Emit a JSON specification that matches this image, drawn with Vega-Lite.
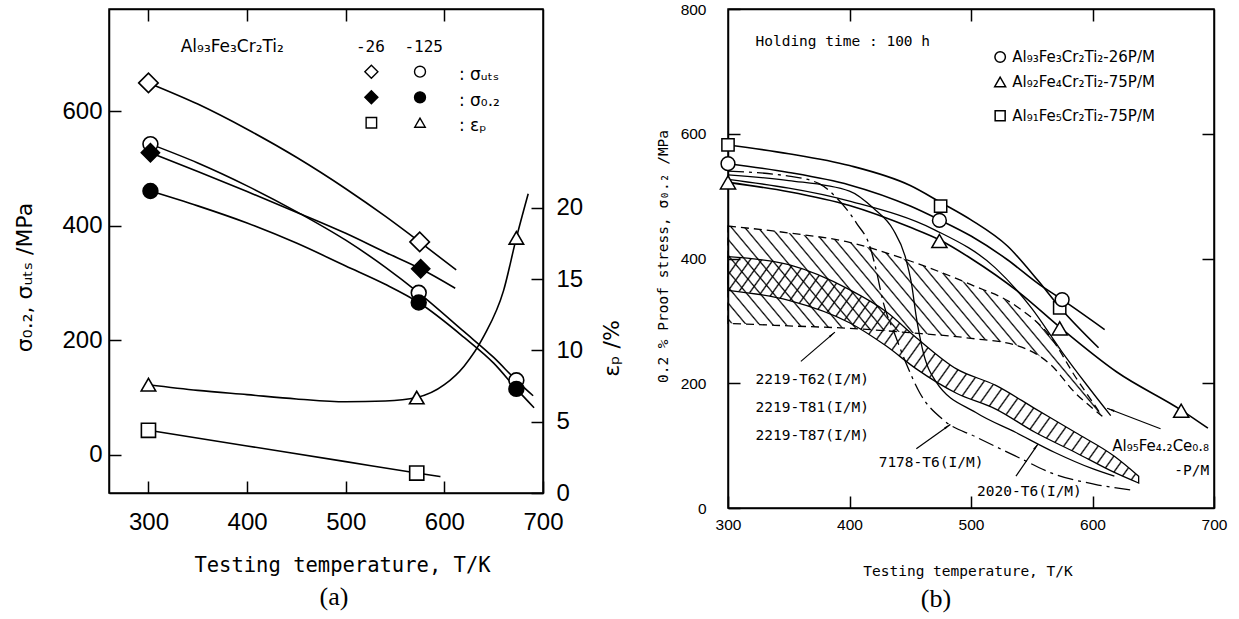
{
"$schema":"https://vega.github.io/schema/vega-lite/v6.json",
"padding":{"left":12,"top":1,"right":4,"bottom":4},
"background":"white",
"spacing":31,
"config":{"view":{"stroke":"black","strokeWidth":1.5},"axis":{"grid":false,"domain":true,"domainColor":"black","domainWidth":1.5,"tickColor":"black","tickWidth":1.5,"labelColor":"black","titleColor":"black","titleFontWeight":"normal","labelFlush":false,"labelOverlap":false}},
"datasets":{
"aStress":[
{"series":"uts26","T":300,"MPa":650},{"series":"uts26","T":350,"MPa":613},{"series":"uts26","T":400,"MPa":569},{"series":"uts26","T":450,"MPa":520},{"series":"uts26","T":500,"MPa":465},{"series":"uts26","T":540,"MPa":417},{"series":"uts26","T":575,"MPa":372},{"series":"uts26","T":612,"MPa":323},
{"series":"uts125","T":302,"MPa":543},{"series":"uts125","T":350,"MPa":510},{"series":"uts125","T":400,"MPa":470},{"series":"uts125","T":450,"MPa":425},{"series":"uts125","T":500,"MPa":375},{"series":"uts125","T":540,"MPa":328},{"series":"uts125","T":574,"MPa":283},{"series":"uts125","T":620,"MPa":215},{"series":"uts125","T":650,"MPa":170},{"series":"uts125","T":673,"MPa":130},{"series":"uts125","T":690,"MPa":103},
{"series":"ys26","T":302,"MPa":528},{"series":"ys26","T":350,"MPa":495},{"series":"ys26","T":400,"MPa":460},{"series":"ys26","T":450,"MPa":424},{"series":"ys26","T":500,"MPa":387},{"series":"ys26","T":540,"MPa":354},{"series":"ys26","T":576,"MPa":325},{"series":"ys26","T":611,"MPa":291},
{"series":"ys125","T":302,"MPa":461},{"series":"ys125","T":350,"MPa":435},{"series":"ys125","T":400,"MPa":405},{"series":"ys125","T":450,"MPa":370},{"series":"ys125","T":500,"MPa":330},{"series":"ys125","T":540,"MPa":298},{"series":"ys125","T":574,"MPa":266},{"series":"ys125","T":620,"MPa":205},{"series":"ys125","T":650,"MPa":160},{"series":"ys125","T":673,"MPa":115},{"series":"ys125","T":691,"MPa":82}
],
"aStressPts":[
{"series":"uts26","T":300,"MPa":650},{"series":"uts26","T":575,"MPa":372},
{"series":"uts125","T":302,"MPa":543},{"series":"uts125","T":574,"MPa":283},{"series":"uts125","T":673,"MPa":130},
{"series":"ys26","T":302,"MPa":528},{"series":"ys26","T":576,"MPa":325},
{"series":"ys125","T":302,"MPa":461},{"series":"ys125","T":574,"MPa":266},{"series":"ys125","T":673,"MPa":115}
],
"aStrain":[
{"series":"ep26","T":300,"pct":4.4},{"series":"ep26","T":400,"pct":3.3},{"series":"ep26","T":500,"pct":2.2},{"series":"ep26","T":572,"pct":1.4},{"series":"ep26","T":596,"pct":1.15},
{"series":"ep125","T":300,"pct":7.6},{"series":"ep125","T":350,"pct":7.2},{"series":"ep125","T":400,"pct":6.9},{"series":"ep125","T":450,"pct":6.6},{"series":"ep125","T":500,"pct":6.4},{"series":"ep125","T":540,"pct":6.45},{"series":"ep125","T":572,"pct":6.7},{"series":"ep125","T":600,"pct":7.6},{"series":"ep125","T":620,"pct":8.9},{"series":"ep125","T":640,"pct":11.0},{"series":"ep125","T":660,"pct":14.2},{"series":"ep125","T":673,"pct":17.9},{"series":"ep125","T":685,"pct":21.0}
],
"aStrainPts":[
{"series":"ep26","T":300,"pct":4.4},{"series":"ep26","T":572,"pct":1.4},
{"series":"ep125","T":300,"pct":7.6},{"series":"ep125","T":572,"pct":6.7},{"series":"ep125","T":673,"pct":17.9}
],
"bBandA":[
{"T":300,"lo":296,"hi":452},{"T":350,"lo":292,"hi":441},{"T":400,"lo":288,"hi":426},{"T":450,"lo":281,"hi":396},{"T":500,"lo":272,"hi":358},{"T":537,"lo":261,"hi":324},{"T":566,"lo":229,"hi":273},{"T":586,"lo":184,"hi":210},{"T":600,"lo":160,"hi":170},{"T":608,"lo":147,"hi":147}
],
"bBandC":[
{"T":300,"lo":349,"hi":403},{"T":350,"lo":333,"hi":390},{"T":400,"lo":297,"hi":350},{"T":430,"lo":260,"hi":315},{"T":455,"lo":223,"hi":273},{"T":488,"lo":184,"hi":223},{"T":520,"lo":159,"hi":197},{"T":553,"lo":121,"hi":159},{"T":586,"lo":89,"hi":121},{"T":618,"lo":57,"hi":83},{"T":638,"lo":40,"hi":51}
],
"bRef":[
{"series":"7178-T6","T":300,"MPa":540},{"series":"7178-T6","T":350,"MPa":532},{"series":"7178-T6","T":375,"MPa":520},{"series":"7178-T6","T":389,"MPa":498},{"series":"7178-T6","T":406,"MPa":456},{"series":"7178-T6","T":417,"MPa":418},{"series":"7178-T6","T":422,"MPa":381},{"series":"7178-T6","T":428,"MPa":328},{"series":"7178-T6","T":437,"MPa":280},{"series":"7178-T6","T":447,"MPa":230},{"series":"7178-T6","T":458,"MPa":184},{"series":"7178-T6","T":478,"MPa":140},{"series":"7178-T6","T":504,"MPa":114},{"series":"7178-T6","T":537,"MPa":83},{"series":"7178-T6","T":569,"MPa":54},{"series":"7178-T6","T":602,"MPa":38},{"series":"7178-T6","T":631,"MPa":29},
{"series":"2020-T6","T":300,"MPa":534},{"series":"2020-T6","T":350,"MPa":525},{"series":"2020-T6","T":400,"MPa":508},{"series":"2020-T6","T":420,"MPa":480},{"series":"2020-T6","T":436,"MPa":446},{"series":"2020-T6","T":446,"MPa":402},{"series":"2020-T6","T":451,"MPa":360},{"series":"2020-T6","T":455,"MPa":306},{"series":"2020-T6","T":460,"MPa":255},{"series":"2020-T6","T":471,"MPa":203},{"series":"2020-T6","T":504,"MPa":153},{"series":"2020-T6","T":537,"MPa":121},{"series":"2020-T6","T":569,"MPa":89},{"series":"2020-T6","T":600,"MPa":63},{"series":"2020-T6","T":618,"MPa":51},
{"series":"Al95","T":300,"MPa":527},{"series":"Al95","T":400,"MPa":492},{"series":"Al95","T":470,"MPa":446},{"series":"Al95","T":520,"MPa":385},{"series":"Al95","T":550,"MPa":320},{"series":"Al95","T":575,"MPa":250},{"series":"Al95","T":595,"MPa":198},{"series":"Al95","T":615,"MPa":148}
],
"bPM":[
{"series":"sq","T":300,"MPa":582},{"series":"sq","T":350,"MPa":568},{"series":"sq","T":400,"MPa":549},{"series":"sq","T":450,"MPa":517},{"series":"sq","T":475,"MPa":490},{"series":"sq","T":500,"MPa":462},{"series":"sq","T":530,"MPa":420},{"series":"sq","T":555,"MPa":365},{"series":"sq","T":573,"MPa":322},{"series":"sq","T":605,"MPa":257},
{"series":"circ","T":300,"MPa":552},{"series":"circ","T":350,"MPa":538},{"series":"circ","T":400,"MPa":518},{"series":"circ","T":450,"MPa":484},{"series":"circ","T":474,"MPa":462},{"series":"circ","T":500,"MPa":436},{"series":"circ","T":530,"MPa":398},{"series":"circ","T":555,"MPa":360},{"series":"circ","T":575,"MPa":334},{"series":"circ","T":610,"MPa":286},
{"series":"tri","T":300,"MPa":522},{"series":"tri","T":350,"MPa":507},{"series":"tri","T":400,"MPa":485},{"series":"tri","T":450,"MPa":450},{"series":"tri","T":474,"MPa":430},{"series":"tri","T":500,"MPa":400},{"series":"tri","T":540,"MPa":345},{"series":"tri","T":573,"MPa":290},{"series":"tri","T":620,"MPa":218},{"series":"tri","T":673,"MPa":157},{"series":"tri","T":695,"MPa":128}
],
"bPMPts":[
{"series":"sq","T":300,"MPa":582},{"series":"sq","T":475,"MPa":484},{"series":"sq","T":573,"MPa":321},
{"series":"circ","T":300,"MPa":552},{"series":"circ","T":474,"MPa":461},{"series":"circ","T":575,"MPa":334},
{"series":"tri","T":300,"MPa":522},{"series":"tri","T":474,"MPa":428},{"series":"tri","T":573,"MPa":288},{"series":"tri","T":673,"MPa":156}
]
},
"hconcat":[
{
"width":434,"height":484,
"title":{"text":"(a)","orient":"bottom","font":"Liberation Serif","fontSize":26,"fontWeight":"normal","dx":8,"offset":8,"color":"black"},
"layer":[
{"layer":[
{"data":{"name":"aStress"},"mark":{"type":"line","interpolate":"monotone","color":"black","strokeWidth":1.6},
"encoding":{
"x":{"field":"T","type":"quantitative","scale":{"domain":[260,700],"nice":false,"zero":false},"axis":{"orient":"bottom","values":[300,400,500,600,700],"tickSize":-12,"labelFont":"Liberation Sans","labelFontSize":24,"labelPadding":29,"title":"Testing temperature, T/K","titleFont":"DejaVu Sans Mono","titleFontSize":20.5,"titleX":233,"titleY":72,"titleBaseline":"middle","titleAlign":"center"}},
"y":{"field":"MPa","type":"quantitative","scale":{"domain":[-67,779.2],"nice":false,"zero":false},"axis":{"orient":"left","values":[0,200,400,600],"tickSize":-12,"labelFont":"Liberation Sans","labelFontSize":24,"labelPadding":19,"title":"σ₀.₂,  σᵤₜₛ /MPa","titleFont":"DejaVu Sans","titleFontSize":22,"titleAngle":-90,"titleX":-85,"titleY":268,"titleBaseline":"middle","titleAlign":"center"}},
"detail":{"field":"series"}}},
{"data":{"name":"aStressPts"},"transform":[{"filter":"datum.series=='uts26'"}],"mark":{"type":"point","shape":"diamond","filled":true,"fill":"white","stroke":"black","strokeWidth":1.6,"size":380,"opacity":1},"encoding":{"x":{"field":"T","type":"quantitative"},"y":{"field":"MPa","type":"quantitative"}}},
{"data":{"name":"aStressPts"},"transform":[{"filter":"datum.series=='uts125'"}],"mark":{"type":"point","shape":"circle","filled":true,"fill":"white","stroke":"black","strokeWidth":1.6,"size":220,"opacity":1},"encoding":{"x":{"field":"T","type":"quantitative"},"y":{"field":"MPa","type":"quantitative"}}},
{"data":{"name":"aStressPts"},"transform":[{"filter":"datum.series=='ys26'"}],"mark":{"type":"point","shape":"diamond","filled":true,"fill":"black","stroke":"black","strokeWidth":1.6,"size":330,"opacity":1},"encoding":{"x":{"field":"T","type":"quantitative"},"y":{"field":"MPa","type":"quantitative"}}},
{"data":{"name":"aStressPts"},"transform":[{"filter":"datum.series=='ys125'"}],"mark":{"type":"point","shape":"circle","filled":true,"fill":"black","stroke":"black","strokeWidth":1.6,"size":220,"opacity":1},"encoding":{"x":{"field":"T","type":"quantitative"},"y":{"field":"MPa","type":"quantitative"}}},
{"data":{"values":[{}]},"layer":[
{"mark":{"type":"text","text":"Al₉₃Fe₃Cr₂Ti₂","align":"left","baseline":"middle","font":"DejaVu Sans","fontSize":17,"color":"black"},"encoding":{"x":{"datum":332.7,"type":"quantitative"},"y":{"datum":712.8,"type":"quantitative"}}},
{"mark":{"type":"text","text":"-26","align":"center","baseline":"middle","font":"DejaVu Sans Mono","fontSize":16,"color":"black"},"encoding":{"x":{"datum":525,"type":"quantitative"},"y":{"datum":712.8,"type":"quantitative"}}},
{"mark":{"type":"text","text":"-125","align":"center","baseline":"middle","font":"DejaVu Sans Mono","fontSize":16,"color":"black"},"encoding":{"x":{"datum":579,"type":"quantitative"},"y":{"datum":712.8,"type":"quantitative"}}},
{"mark":{"type":"point","shape":"diamond","filled":true,"fill":"white","stroke":"black","strokeWidth":1.4,"size":170,"opacity":1},"encoding":{"x":{"datum":526,"type":"quantitative"},"y":{"datum":669.6,"type":"quantitative"}}},
{"mark":{"type":"point","shape":"circle","filled":true,"fill":"white","stroke":"black","strokeWidth":1.4,"size":120,"opacity":1},"encoding":{"x":{"datum":575.3,"type":"quantitative"},"y":{"datum":669.6,"type":"quantitative"}}},
{"mark":{"type":"point","shape":"diamond","filled":true,"fill":"black","stroke":"black","strokeWidth":1.4,"size":170,"opacity":1},"encoding":{"x":{"datum":526,"type":"quantitative"},"y":{"datum":624.8,"type":"quantitative"}}},
{"mark":{"type":"point","shape":"circle","filled":true,"fill":"black","stroke":"black","strokeWidth":1.4,"size":120,"opacity":1},"encoding":{"x":{"datum":575.3,"type":"quantitative"},"y":{"datum":624.8,"type":"quantitative"}}},
{"mark":{"type":"point","shape":"square","filled":true,"fill":"white","stroke":"black","strokeWidth":1.4,"size":110,"opacity":1},"encoding":{"x":{"datum":526,"type":"quantitative"},"y":{"datum":580.4,"type":"quantitative"}}},
{"mark":{"type":"point","shape":"triangle-up","filled":true,"fill":"white","stroke":"black","strokeWidth":1.4,"size":110,"opacity":1},"encoding":{"x":{"datum":575.3,"type":"quantitative"},"y":{"datum":580.4,"type":"quantitative"}}},
{"mark":{"type":"text","text":":  σᵤₜₛ","align":"left","baseline":"middle","font":"DejaVu Sans","fontSize":17,"color":"black"},"encoding":{"x":{"datum":614.8,"type":"quantitative"},"y":{"datum":663.8,"type":"quantitative"}}},
{"mark":{"type":"text","text":":  σ₀.₂","align":"left","baseline":"middle","font":"DejaVu Sans","fontSize":17,"color":"black"},"encoding":{"x":{"datum":614.8,"type":"quantitative"},"y":{"datum":618.7,"type":"quantitative"}}},
{"mark":{"type":"text","text":":  εₚ","align":"left","baseline":"middle","font":"DejaVu Sans","fontSize":17,"color":"black"},"encoding":{"x":{"datum":614.8,"type":"quantitative"},"y":{"datum":575,"type":"quantitative"}}}
]}
]},
{"layer":[
{"data":{"name":"aStrain"},"mark":{"type":"line","interpolate":"monotone","color":"black","strokeWidth":1.6},
"encoding":{
"x":{"field":"T","type":"quantitative","scale":{"domain":[260,700],"nice":false,"zero":false},"axis":{"orient":"top","values":[300,400,500,600],"tickSize":-12,"labels":false,"title":null}},
"y":{"field":"pct","type":"quantitative","scale":{"domain":[0,33.96],"nice":false,"zero":false},"axis":{"orient":"right","values":[0,5,10,15,20],"tickSize":-12,"labelFont":"Liberation Sans","labelFontSize":24,"labelPadding":25,"title":"εₚ /%","titleFont":"DejaVu Sans","titleFontSize":22,"titleAngle":-90,"titleX":68,"titleY":339,"titleBaseline":"middle","titleAlign":"center"}},
"detail":{"field":"series"}}},
{"data":{"name":"aStrainPts"},"transform":[{"filter":"datum.series=='ep26'"}],"mark":{"type":"point","shape":"square","filled":true,"fill":"white","stroke":"black","strokeWidth":1.6,"size":200,"opacity":1},"encoding":{"x":{"field":"T","type":"quantitative"},"y":{"field":"pct","type":"quantitative"}}},
{"data":{"name":"aStrainPts"},"transform":[{"filter":"datum.series=='ep125'"}],"mark":{"type":"point","shape":"triangle-up","filled":true,"fill":"white","stroke":"black","strokeWidth":1.6,"size":210,"opacity":1},"encoding":{"x":{"field":"T","type":"quantitative"},"y":{"field":"pct","type":"quantitative"}}}
]}
],
"resolve":{"scale":{"y":"independent"},"axis":{"x":"independent","y":"independent"}}
},
{
"width":486,"height":499,
"title":{"text":"(b)","orient":"bottom","font":"Liberation Serif","fontSize":26,"fontWeight":"normal","dx":-35,"offset":8,"color":"black"},
"layer":[
{"layer":[
{"data":{"name":"bPM"},"mark":{"type":"line","interpolate":"monotone","color":"black","strokeWidth":1.6},
"encoding":{
"x":{"field":"T","type":"quantitative","scale":{"domain":[300,700],"nice":false,"zero":false},"axis":{"orient":"bottom","values":[300,400,500,600,700],"tickSize":-12,"labelFont":"Liberation Sans","labelFontSize":15.5,"labelPadding":21,"title":"Testing temperature, T/K","titleFont":"DejaVu Sans Mono","titleFontSize":14.5,"titleX":239.5,"titleY":63,"titleBaseline":"middle","titleAlign":"center"}},
"y":{"field":"MPa","type":"quantitative","scale":{"domain":[0,800],"nice":false,"zero":false},"axis":{"orient":"left","values":[0,200,400,600,800],"tickSize":-12,"labelFont":"Liberation Sans","labelFontSize":15.5,"labelPadding":34,"title":"0.2 % Proof stress, σ₀.₂ /MPa","titleFont":"DejaVu Sans Mono","titleFontSize":14.5,"titleAngle":-90,"titleX":-64.5,"titleY":247,"titleBaseline":"middle","titleAlign":"center"}},
"detail":{"field":"series"}}},
{"data":{"name":"bBandA"},"mark":{"type":"area","interpolate":"monotone","stroke":"black","strokeWidth":1.3,"strokeDash":[8,5],"fill":{"gradient":"linear","x1":0,"y1":1,"x2":1.206,"y2":0.487,"stops":[
{"offset":0,"color":"transparent"},{"offset":0.003,"color":"#000"},{"offset":0.006,"color":"transparent"},
{"offset":0.025,"color":"transparent"},{"offset":0.028,"color":"#000"},{"offset":0.031,"color":"transparent"},
{"offset":0.05,"color":"transparent"},{"offset":0.053,"color":"#000"},{"offset":0.056,"color":"transparent"},
{"offset":0.075,"color":"transparent"},{"offset":0.078,"color":"#000"},{"offset":0.081,"color":"transparent"},
{"offset":0.1,"color":"transparent"},{"offset":0.103,"color":"#000"},{"offset":0.106,"color":"transparent"},
{"offset":0.125,"color":"transparent"},{"offset":0.128,"color":"#000"},{"offset":0.131,"color":"transparent"},
{"offset":0.15,"color":"transparent"},{"offset":0.153,"color":"#000"},{"offset":0.156,"color":"transparent"},
{"offset":0.175,"color":"transparent"},{"offset":0.178,"color":"#000"},{"offset":0.181,"color":"transparent"},
{"offset":0.2,"color":"transparent"},{"offset":0.203,"color":"#000"},{"offset":0.206,"color":"transparent"},
{"offset":0.225,"color":"transparent"},{"offset":0.228,"color":"#000"},{"offset":0.231,"color":"transparent"},
{"offset":0.25,"color":"transparent"},{"offset":0.253,"color":"#000"},{"offset":0.256,"color":"transparent"},
{"offset":0.275,"color":"transparent"},{"offset":0.278,"color":"#000"},{"offset":0.281,"color":"transparent"},
{"offset":0.3,"color":"transparent"},{"offset":0.303,"color":"#000"},{"offset":0.306,"color":"transparent"},
{"offset":0.325,"color":"transparent"},{"offset":0.328,"color":"#000"},{"offset":0.331,"color":"transparent"},
{"offset":0.35,"color":"transparent"},{"offset":0.353,"color":"#000"},{"offset":0.356,"color":"transparent"},
{"offset":0.375,"color":"transparent"},{"offset":0.378,"color":"#000"},{"offset":0.381,"color":"transparent"},
{"offset":0.4,"color":"transparent"},{"offset":0.403,"color":"#000"},{"offset":0.406,"color":"transparent"},
{"offset":0.425,"color":"transparent"},{"offset":0.428,"color":"#000"},{"offset":0.431,"color":"transparent"},
{"offset":0.45,"color":"transparent"},{"offset":0.453,"color":"#000"},{"offset":0.456,"color":"transparent"},
{"offset":0.475,"color":"transparent"},{"offset":0.478,"color":"#000"},{"offset":0.481,"color":"transparent"},
{"offset":0.5,"color":"transparent"},{"offset":0.503,"color":"#000"},{"offset":0.506,"color":"transparent"},
{"offset":0.525,"color":"transparent"},{"offset":0.528,"color":"#000"},{"offset":0.531,"color":"transparent"},
{"offset":0.55,"color":"transparent"},{"offset":0.553,"color":"#000"},{"offset":0.556,"color":"transparent"},
{"offset":0.575,"color":"transparent"},{"offset":0.578,"color":"#000"},{"offset":0.581,"color":"transparent"},
{"offset":0.6,"color":"transparent"},{"offset":0.603,"color":"#000"},{"offset":0.606,"color":"transparent"},
{"offset":0.625,"color":"transparent"},{"offset":0.628,"color":"#000"},{"offset":0.631,"color":"transparent"},
{"offset":0.65,"color":"transparent"},{"offset":0.653,"color":"#000"},{"offset":0.656,"color":"transparent"},
{"offset":0.675,"color":"transparent"},{"offset":0.678,"color":"#000"},{"offset":0.681,"color":"transparent"},
{"offset":0.7,"color":"transparent"},{"offset":0.703,"color":"#000"},{"offset":0.706,"color":"transparent"},
{"offset":0.725,"color":"transparent"},{"offset":0.728,"color":"#000"},{"offset":0.731,"color":"transparent"},
{"offset":0.75,"color":"transparent"},{"offset":0.753,"color":"#000"},{"offset":0.756,"color":"transparent"},
{"offset":0.775,"color":"transparent"},{"offset":0.778,"color":"#000"},{"offset":0.781,"color":"transparent"},
{"offset":0.8,"color":"transparent"},{"offset":0.803,"color":"#000"},{"offset":0.806,"color":"transparent"},
{"offset":0.825,"color":"transparent"},{"offset":0.828,"color":"#000"},{"offset":0.831,"color":"transparent"},
{"offset":0.85,"color":"transparent"},{"offset":0.853,"color":"#000"},{"offset":0.856,"color":"transparent"},
{"offset":0.875,"color":"transparent"},{"offset":0.878,"color":"#000"},{"offset":0.881,"color":"transparent"},
{"offset":0.9,"color":"transparent"},{"offset":0.903,"color":"#000"},{"offset":0.906,"color":"transparent"},
{"offset":0.925,"color":"transparent"},{"offset":0.928,"color":"#000"},{"offset":0.931,"color":"transparent"},
{"offset":0.95,"color":"transparent"},{"offset":0.953,"color":"#000"},{"offset":0.956,"color":"transparent"},
{"offset":0.975,"color":"transparent"},{"offset":0.978,"color":"#000"},{"offset":0.981,"color":"transparent"}
]}},
"encoding":{"x":{"field":"T","type":"quantitative"},"y":{"field":"hi","type":"quantitative"},"y2":{"field":"lo"}}},
{"data":{"name":"bBandC"},"mark":{"type":"area","interpolate":"monotone","stroke":"black","strokeWidth":1.3,"fill":{"gradient":"linear","x1":0,"y1":0,"x2":1.207,"y2":0.475,"stops":[
{"offset":0,"color":"transparent"},{"offset":0.0028,"color":"#000"},{"offset":0.0056,"color":"transparent"},
{"offset":0.02,"color":"transparent"},{"offset":0.0228,"color":"#000"},{"offset":0.0256,"color":"transparent"},
{"offset":0.04,"color":"transparent"},{"offset":0.0428,"color":"#000"},{"offset":0.0456,"color":"transparent"},
{"offset":0.06,"color":"transparent"},{"offset":0.0628,"color":"#000"},{"offset":0.0656,"color":"transparent"},
{"offset":0.08,"color":"transparent"},{"offset":0.0828,"color":"#000"},{"offset":0.0856,"color":"transparent"},
{"offset":0.1,"color":"transparent"},{"offset":0.1028,"color":"#000"},{"offset":0.1056,"color":"transparent"},
{"offset":0.12,"color":"transparent"},{"offset":0.1228,"color":"#000"},{"offset":0.1256,"color":"transparent"},
{"offset":0.14,"color":"transparent"},{"offset":0.1428,"color":"#000"},{"offset":0.1456,"color":"transparent"},
{"offset":0.16,"color":"transparent"},{"offset":0.1628,"color":"#000"},{"offset":0.1656,"color":"transparent"},
{"offset":0.18,"color":"transparent"},{"offset":0.1828,"color":"#000"},{"offset":0.1856,"color":"transparent"},
{"offset":0.2,"color":"transparent"},{"offset":0.2028,"color":"#000"},{"offset":0.2056,"color":"transparent"},
{"offset":0.22,"color":"transparent"},{"offset":0.2228,"color":"#000"},{"offset":0.2256,"color":"transparent"},
{"offset":0.24,"color":"transparent"},{"offset":0.2428,"color":"#000"},{"offset":0.2456,"color":"transparent"},
{"offset":0.26,"color":"transparent"},{"offset":0.2628,"color":"#000"},{"offset":0.2656,"color":"transparent"},
{"offset":0.28,"color":"transparent"},{"offset":0.2828,"color":"#000"},{"offset":0.2856,"color":"transparent"},
{"offset":0.3,"color":"transparent"},{"offset":0.3028,"color":"#000"},{"offset":0.3056,"color":"transparent"},
{"offset":0.32,"color":"transparent"},{"offset":0.3228,"color":"#000"},{"offset":0.3256,"color":"transparent"},
{"offset":0.34,"color":"transparent"},{"offset":0.3428,"color":"#000"},{"offset":0.3456,"color":"transparent"},
{"offset":0.36,"color":"transparent"},{"offset":0.3628,"color":"#000"},{"offset":0.3656,"color":"transparent"},
{"offset":0.38,"color":"transparent"},{"offset":0.3828,"color":"#000"},{"offset":0.3856,"color":"transparent"},
{"offset":0.4,"color":"transparent"},{"offset":0.4028,"color":"#000"},{"offset":0.4056,"color":"transparent"},
{"offset":0.42,"color":"transparent"},{"offset":0.4228,"color":"#000"},{"offset":0.4256,"color":"transparent"},
{"offset":0.44,"color":"transparent"},{"offset":0.4428,"color":"#000"},{"offset":0.4456,"color":"transparent"},
{"offset":0.46,"color":"transparent"},{"offset":0.4628,"color":"#000"},{"offset":0.4656,"color":"transparent"},
{"offset":0.48,"color":"transparent"},{"offset":0.4828,"color":"#000"},{"offset":0.4856,"color":"transparent"},
{"offset":0.5,"color":"transparent"},{"offset":0.5028,"color":"#000"},{"offset":0.5056,"color":"transparent"},
{"offset":0.52,"color":"transparent"},{"offset":0.5228,"color":"#000"},{"offset":0.5256,"color":"transparent"},
{"offset":0.54,"color":"transparent"},{"offset":0.5428,"color":"#000"},{"offset":0.5456,"color":"transparent"},
{"offset":0.56,"color":"transparent"},{"offset":0.5628,"color":"#000"},{"offset":0.5656,"color":"transparent"},
{"offset":0.58,"color":"transparent"},{"offset":0.5828,"color":"#000"},{"offset":0.5856,"color":"transparent"},
{"offset":0.6,"color":"transparent"},{"offset":0.6028,"color":"#000"},{"offset":0.6056,"color":"transparent"},
{"offset":0.62,"color":"transparent"},{"offset":0.6228,"color":"#000"},{"offset":0.6256,"color":"transparent"},
{"offset":0.64,"color":"transparent"},{"offset":0.6428,"color":"#000"},{"offset":0.6456,"color":"transparent"},
{"offset":0.66,"color":"transparent"},{"offset":0.6628,"color":"#000"},{"offset":0.6656,"color":"transparent"},
{"offset":0.68,"color":"transparent"},{"offset":0.6828,"color":"#000"},{"offset":0.6856,"color":"transparent"},
{"offset":0.7,"color":"transparent"},{"offset":0.7028,"color":"#000"},{"offset":0.7056,"color":"transparent"},
{"offset":0.72,"color":"transparent"},{"offset":0.7228,"color":"#000"},{"offset":0.7256,"color":"transparent"},
{"offset":0.74,"color":"transparent"},{"offset":0.7428,"color":"#000"},{"offset":0.7456,"color":"transparent"},
{"offset":0.76,"color":"transparent"},{"offset":0.7628,"color":"#000"},{"offset":0.7656,"color":"transparent"},
{"offset":0.78,"color":"transparent"},{"offset":0.7828,"color":"#000"},{"offset":0.7856,"color":"transparent"},
{"offset":0.8,"color":"transparent"},{"offset":0.8028,"color":"#000"},{"offset":0.8056,"color":"transparent"},
{"offset":0.82,"color":"transparent"},{"offset":0.8228,"color":"#000"},{"offset":0.8256,"color":"transparent"},
{"offset":0.84,"color":"transparent"},{"offset":0.8428,"color":"#000"},{"offset":0.8456,"color":"transparent"},
{"offset":0.86,"color":"transparent"},{"offset":0.8628,"color":"#000"},{"offset":0.8656,"color":"transparent"},
{"offset":0.88,"color":"transparent"},{"offset":0.8828,"color":"#000"},{"offset":0.8856,"color":"transparent"},
{"offset":0.9,"color":"transparent"},{"offset":0.9028,"color":"#000"},{"offset":0.9056,"color":"transparent"},
{"offset":0.92,"color":"transparent"},{"offset":0.9228,"color":"#000"},{"offset":0.9256,"color":"transparent"},
{"offset":0.94,"color":"transparent"},{"offset":0.9428,"color":"#000"},{"offset":0.9456,"color":"transparent"},
{"offset":0.96,"color":"transparent"},{"offset":0.9628,"color":"#000"},{"offset":0.9656,"color":"transparent"},
{"offset":0.98,"color":"transparent"},{"offset":0.9828,"color":"#000"},{"offset":0.9856,"color":"transparent"}
]}},
"encoding":{"x":{"field":"T","type":"quantitative"},"y":{"field":"hi","type":"quantitative"},"y2":{"field":"lo"}}},
{"data":{"name":"bRef"},"transform":[{"filter":"datum.series=='7178-T6'"}],"mark":{"type":"line","interpolate":"monotone","color":"black","strokeWidth":1.3,"strokeDash":[16,5,3,5]},"encoding":{"x":{"field":"T","type":"quantitative"},"y":{"field":"MPa","type":"quantitative"}}},
{"data":{"name":"bRef"},"transform":[{"filter":"datum.series!='7178-T6'"}],"mark":{"type":"line","interpolate":"monotone","color":"black","strokeWidth":1.3},"encoding":{"x":{"field":"T","type":"quantitative"},"y":{"field":"MPa","type":"quantitative"},"detail":{"field":"series"}}},
{"data":{"name":"bPMPts"},"transform":[{"filter":"datum.series=='sq'"}],"mark":{"type":"point","shape":"square","filled":true,"fill":"white","stroke":"black","strokeWidth":1.5,"size":150,"opacity":1},"encoding":{"x":{"field":"T","type":"quantitative"},"y":{"field":"MPa","type":"quantitative"}}},
{"data":{"name":"bPMPts"},"transform":[{"filter":"datum.series=='circ'"}],"mark":{"type":"point","shape":"circle","filled":true,"fill":"white","stroke":"black","strokeWidth":1.5,"size":190,"opacity":1},"encoding":{"x":{"field":"T","type":"quantitative"},"y":{"field":"MPa","type":"quantitative"}}},
{"data":{"name":"bPMPts"},"transform":[{"filter":"datum.series=='tri'"}],"mark":{"type":"point","shape":"triangle-up","filled":true,"fill":"white","stroke":"black","strokeWidth":1.5,"size":230,"opacity":1},"encoding":{"x":{"field":"T","type":"quantitative"},"y":{"field":"MPa","type":"quantitative"}}}
]},
{"data":{"values":[{}]},"layer":[
{"mark":{"type":"text","text":"Holding time : 100 h","align":"left","baseline":"middle","font":"DejaVu Sans Mono","fontSize":14.5,"color":"black"},"encoding":{"x":{"datum":322.6,"type":"quantitative","axis":{"orient":"top","values":[400,500,600],"tickSize":-12,"labels":false,"title":null}},"y":{"datum":747,"type":"quantitative","axis":{"orient":"right","values":[200,400,600],"tickSize":-12,"labels":false,"title":null}}}},
{"mark":{"type":"point","shape":"circle","filled":true,"fill":"white","stroke":"black","strokeWidth":1.5,"size":110,"opacity":1},"encoding":{"x":{"datum":524,"type":"quantitative"},"y":{"datum":723,"type":"quantitative"}}},
{"mark":{"type":"point","shape":"triangle-up","filled":true,"fill":"white","stroke":"black","strokeWidth":1.5,"size":120,"opacity":1},"encoding":{"x":{"datum":524,"type":"quantitative"},"y":{"datum":683,"type":"quantitative"}}},
{"mark":{"type":"point","shape":"square","filled":true,"fill":"white","stroke":"black","strokeWidth":1.5,"size":100,"opacity":1},"encoding":{"x":{"datum":524,"type":"quantitative"},"y":{"datum":629,"type":"quantitative"}}},
{"mark":{"type":"text","text":"Al₉₃Fe₃Cr₂Ti₂-26P/M","align":"left","baseline":"middle","font":"DejaVu Sans","fontSize":15,"color":"black"},"encoding":{"x":{"datum":534,"type":"quantitative"},"y":{"datum":723,"type":"quantitative"}}},
{"mark":{"type":"text","text":"Al₉₂Fe₄Cr₂Ti₂-75P/M","align":"left","baseline":"middle","font":"DejaVu Sans","fontSize":15,"color":"black"},"encoding":{"x":{"datum":534,"type":"quantitative"},"y":{"datum":683,"type":"quantitative"}}},
{"mark":{"type":"text","text":"Al₉₁Fe₅Cr₂Ti₂-75P/M","align":"left","baseline":"middle","font":"DejaVu Sans","fontSize":15,"color":"black"},"encoding":{"x":{"datum":534,"type":"quantitative"},"y":{"datum":629,"type":"quantitative"}}},
{"mark":{"type":"text","text":"2219-T62(I/M)","align":"left","baseline":"middle","font":"DejaVu Sans Mono","fontSize":14.5,"color":"black"},"encoding":{"x":{"datum":322.6,"type":"quantitative"},"y":{"datum":205,"type":"quantitative"}}},
{"mark":{"type":"text","text":"2219-T81(I/M)","align":"left","baseline":"middle","font":"DejaVu Sans Mono","fontSize":14.5,"color":"black"},"encoding":{"x":{"datum":322.6,"type":"quantitative"},"y":{"datum":160,"type":"quantitative"}}},
{"mark":{"type":"text","text":"2219-T87(I/M)","align":"left","baseline":"middle","font":"DejaVu Sans Mono","fontSize":14.5,"color":"black"},"encoding":{"x":{"datum":322.6,"type":"quantitative"},"y":{"datum":115,"type":"quantitative"}}},
{"mark":{"type":"text","text":"7178-T6(I/M)","align":"left","baseline":"middle","font":"DejaVu Sans Mono","fontSize":14.5,"color":"black"},"encoding":{"x":{"datum":424,"type":"quantitative"},"y":{"datum":72,"type":"quantitative"}}},
{"mark":{"type":"text","text":"2020-T6(I/M)","align":"left","baseline":"middle","font":"DejaVu Sans Mono","fontSize":14.5,"color":"black"},"encoding":{"x":{"datum":505,"type":"quantitative"},"y":{"datum":25.6,"type":"quantitative"}}},
{"mark":{"type":"text","text":"Al₉₅Fe₄.₂Ce₀.₈","align":"right","baseline":"middle","font":"DejaVu Sans","fontSize":15,"color":"black"},"encoding":{"x":{"datum":696,"type":"quantitative"},"y":{"datum":99,"type":"quantitative"}}},
{"mark":{"type":"text","text":"-P/M","align":"right","baseline":"middle","font":"DejaVu Sans Mono","fontSize":14.5,"color":"black"},"encoding":{"x":{"datum":696,"type":"quantitative"},"y":{"datum":59,"type":"quantitative"}}},
{"mark":{"type":"rule","color":"black","strokeWidth":1.2},"encoding":{"x":{"datum":360,"type":"quantitative"},"y":{"datum":235,"type":"quantitative"},"x2":{"datum":388},"y2":{"datum":282}}},
{"mark":{"type":"rule","color":"black","strokeWidth":1.2},"encoding":{"x":{"datum":455,"type":"quantitative"},"y":{"datum":95,"type":"quantitative"},"x2":{"datum":483},"y2":{"datum":134}}},
{"mark":{"type":"rule","color":"black","strokeWidth":1.2},"encoding":{"x":{"datum":537,"type":"quantitative"},"y":{"datum":51,"type":"quantitative"},"x2":{"datum":555},"y2":{"datum":102}}},
{"mark":{"type":"rule","color":"black","strokeWidth":1.2},"encoding":{"x":{"datum":656,"type":"quantitative"},"y":{"datum":127,"type":"quantitative"},"x2":{"datum":612},"y2":{"datum":160}}},
{"mark":{"type":"point","shape":"wedge","filled":true,"color":"black","size":70,"angle":49,"opacity":1},"encoding":{"x":{"datum":385,"type":"quantitative"},"y":{"datum":277,"type":"quantitative"}}},
{"mark":{"type":"point","shape":"wedge","filled":true,"color":"black","size":70,"angle":54,"opacity":1},"encoding":{"x":{"datum":480,"type":"quantitative"},"y":{"datum":130,"type":"quantitative"}}},
{"mark":{"type":"point","shape":"wedge","filled":true,"color":"black","size":70,"angle":35,"opacity":1},"encoding":{"x":{"datum":553,"type":"quantitative"},"y":{"datum":97,"type":"quantitative"}}},
{"mark":{"type":"point","shape":"wedge","filled":true,"color":"black","size":70,"angle":291,"opacity":1},"encoding":{"x":{"datum":616,"type":"quantitative"},"y":{"datum":157,"type":"quantitative"}}}
]}
],
"resolve":{"axis":{"x":"independent","y":"independent"}}
}
]
}
